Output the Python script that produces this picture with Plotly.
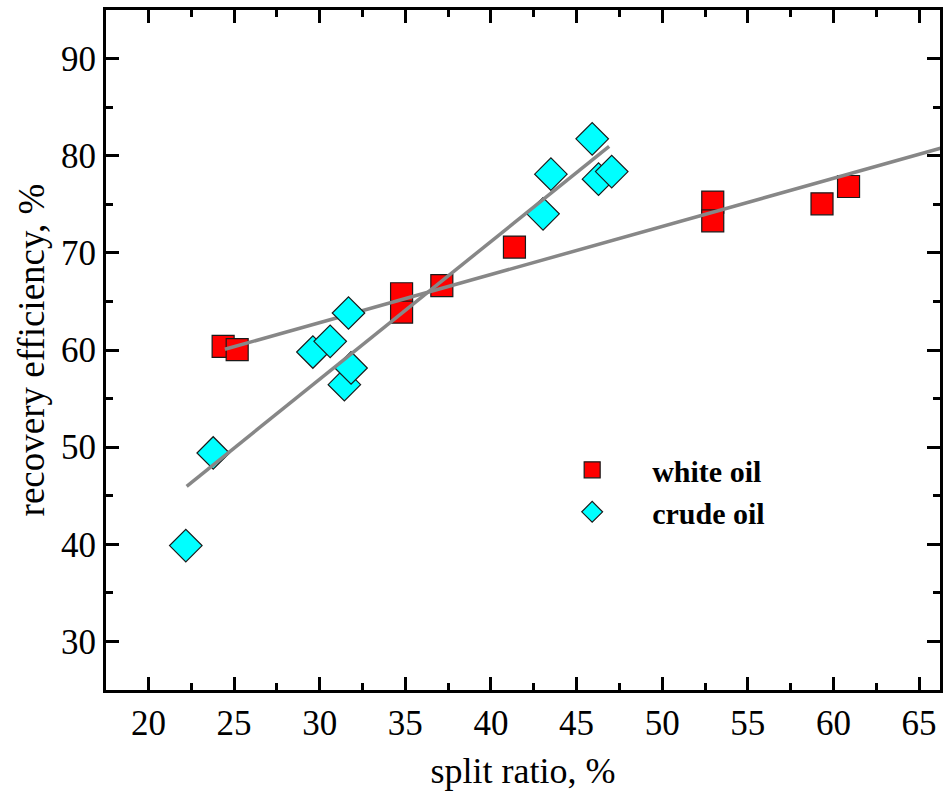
import plotly.graph_objects as go
import numpy as np

# ---- data ----
white_x = [24.36, 25.18, 34.78, 34.78, 37.13, 41.37, 52.95, 52.95, 59.33, 60.88]
white_y = [60.37, 60.03, 65.79, 63.90, 66.62, 70.60, 75.23, 73.30, 75.05, 76.83]

crude_x = [22.18, 23.78, 29.60, 30.61, 31.68, 31.44, 31.83, 43.04, 43.50, 45.91, 46.28, 47.05]
crude_y = [39.87, 49.40, 59.79, 60.89, 63.81, 56.43, 58.15, 74.02, 78.10, 81.74, 77.59, 78.37]

# linear fit lines (intercept, slope, x-extent)
white_fit = dict(a=47.97, b=0.495, x0=24.46, x1=67.0)
crude_fit = dict(a=14.45, b=1.418, x0=22.23, x1=46.90)

x_range = [17.52, 66.22]
y_range = [25.0, 95.0]
x_ticks = [20, 25, 30, 35, 40, 45, 50, 55, 60, 65]
y_ticks = [30, 40, 50, 60, 70, 80, 90]


def fit_line(p):
    xs = np.array([p["x0"], p["x1"]])
    return xs, p["a"] + p["b"] * xs


FONT = "Liberation Serif, Times New Roman, serif"
LINE_GRAY = "#878787"

fig = go.Figure()

fig.add_trace(go.Scatter(
    x=white_x, y=white_y, mode="markers", name="white oil",
    marker=dict(symbol="square", size=22, color="#ff0000",
                line=dict(color="#1a1a1a", width=1.2)),
))
wx, wy = fit_line(white_fit)
fig.add_trace(go.Scatter(x=wx, y=wy, mode="lines", showlegend=False,
                         line=dict(color=LINE_GRAY, width=3.5)))
fig.add_trace(go.Scatter(
    x=crude_x, y=crude_y, mode="markers", name="crude oil",
    marker=dict(symbol="diamond", size=25, color="#00ffff",
                line=dict(color="#1a1a1a", width=1.2)),
))
cx, cy = fit_line(crude_fit)
fig.add_trace(go.Scatter(x=cx, y=cy, mode="lines", showlegend=False,
                         line=dict(color=LINE_GRAY, width=3.5)))

axis_common = dict(
    showgrid=False, zeroline=False,
    showline=True, linecolor="black", linewidth=3,
    mirror="ticks", ticks="inside", ticklen=13, tickwidth=3, tickcolor="black",
    tickfont=dict(family=FONT, size=35, color="black"),
)

fig.update_xaxes(
    range=x_range, tickvals=x_ticks, ticktext=[str(v) for v in x_ticks],
    minor=dict(ticks="inside", ticklen=7, tickwidth=3, tickcolor="black", dtick=2.5, tick0=0),
    title=dict(text="split ratio, %", font=dict(family=FONT, size=36, color="black"), standoff=16),
    **axis_common,
)
fig.update_yaxes(
    range=y_range, tickvals=y_ticks, ticktext=[str(v) for v in y_ticks],
    minor=dict(ticks="inside", ticklen=7, tickwidth=3, tickcolor="black", dtick=5, tick0=0),
    title=dict(text="recovery efficiency, %", font=dict(family=FONT, size=37, color="black"), standoff=6),
    **axis_common,
)

fig.update_layout(
    width=946, height=796,
    margin=dict(l=106, r=3, t=10, b=106),
    paper_bgcolor="white", plot_bgcolor="white",
    showlegend=True,
    legend=dict(
        x=0.511, y=0.362, xanchor="left", yanchor="top",
        bgcolor="rgba(0,0,0,0)", borderwidth=0,
        font=dict(family=FONT, size=30, color="black", weight="bold"),
        itemwidth=110, itemsizing="trace",
    ),
)

fig.write_html("out.html", config={"displayModeBar": False},
               post_script="document.body.style.margin='0px';")
